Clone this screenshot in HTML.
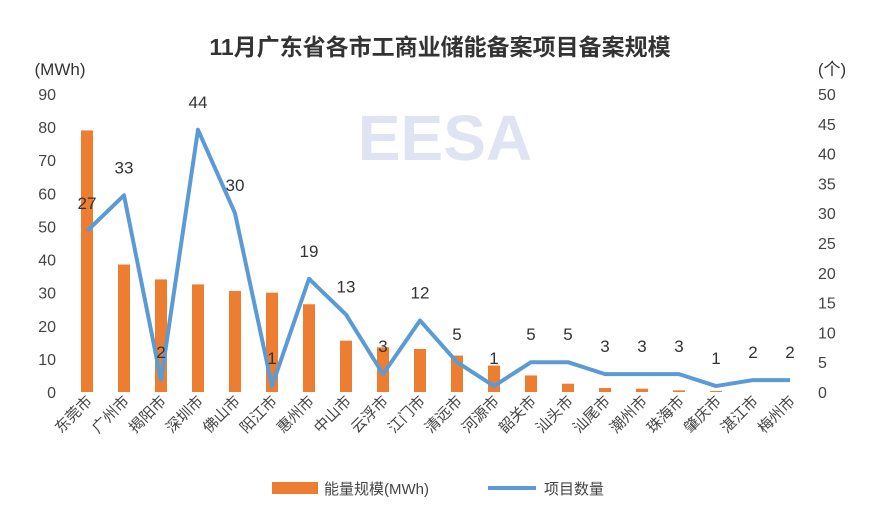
<!DOCTYPE html>
<html><head><meta charset="utf-8">
<style>
body{margin:0;background:#fff;}
svg{display:block;font-family:"Liberation Sans","Noto Sans CJK SC",sans-serif;}
</style></head>
<body>
<svg id="chart" width="880" height="516" viewBox="0 0 880 516">
<rect width="880" height="516" fill="#fff"/>
<text x="440" y="55" text-anchor="middle" font-size="23" font-weight="bold" fill="#333">11月广东省各市工商业储能备案项目备案规模</text>
<text x="60" y="75" text-anchor="middle" font-size="17" fill="#333">(MWh)</text>
<text x="832" y="75" text-anchor="middle" font-size="17" fill="#333">(个)</text>
<text x="445" y="160" text-anchor="middle" font-size="64" font-weight="bold" fill="#c8cde6" opacity="0.55">EESA</text>
<g id="grid"></g><g id="bars"></g><g id="line"></g><g id="labels"></g><g id="axes"></g>
<g>
<rect x="272" y="482" width="46" height="12" fill="#ed7d31"/>
<text x="324" y="494" font-size="15" fill="#444">能量规模(MWh)</text>
<line x1="488" y1="488" x2="536" y2="488" stroke="#5b9bd5" stroke-width="4"/>
<text x="544" y="494" font-size="15" fill="#444">项目数量</text>
</g>
</svg>
<script>
const categories=["东莞市","广州市","揭阳市","深圳市","佛山市","阳江市","惠州市","中山市","云浮市","江门市","清远市","河源市","韶关市","汕头市","汕尾市","潮州市","珠海市","肇庆市","湛江市","梅州市"];
const energy=[79,38.5,34,32.5,30.5,30,26.5,15.5,13.5,13,11,8,5,2.5,1.2,1,0.5,0.3,0,0];
const counts=[27,33,2,44,30,1,19,13,3,12,5,1,5,5,3,3,3,1,2,2];
const leftTicks=[0,10,20,30,40,50,60,70,80,90];
const rightTicks=[0,5,10,15,20,25,30,35,40,45,50];
const NS="http://www.w3.org/2000/svg";
const x0=87,x1=790,yB=392,yT=94;
const xs=i=>x0+i*(x1-x0)/(categories.length-1);
const yL=v=>yB-(v/90)*(yB-yT);
const yR=v=>yB-(v/50)*(yB-yT);
function mk(t,a,p){const e=document.createElementNS(NS,t);for(const k in a)e.setAttribute(k,a[k]);p.appendChild(e);return e;}
const axes=document.getElementById('axes');
leftTicks.forEach(v=>{const t=mk('text',{x:56,y:yL(v)+6,'text-anchor':'end','font-size':16,fill:'#444'},axes);t.textContent=v;

});
rightTicks.forEach(v=>{const t=mk('text',{x:818,y:yR(v)+6,'text-anchor':'start','font-size':16,fill:'#444'},axes);t.textContent=v;

});
const bars=document.getElementById('bars');
energy.forEach((v,i)=>{const r=mk('rect',{x:xs(i)-6,y:yL(v),width:12,height:yB-yL(v),fill:'#ed7d31'},bars);

});
const pts=counts.map((v,i)=>xs(i)+','+yR(v)).join(' ');
const pl=mk('polyline',{points:pts,fill:'none',stroke:'#5b9bd5','stroke-width':4,'stroke-linejoin':'round'},document.getElementById('line'));


const labels=document.getElementById('labels');
counts.forEach((v,i)=>{const t=mk('text',{x:xs(i),y:yR(v)-22,'text-anchor':'middle','font-size':17,fill:'#333'},labels);t.textContent=v;

});
categories.forEach((c,i)=>{const x=xs(i)+6,y=402;const t=mk('text',{x:x,y:y,'text-anchor':'end','font-size':15,fill:'#444',transform:`rotate(-45 ${x} ${y})`},axes);t.textContent=c;

});
</script>
</body></html>
